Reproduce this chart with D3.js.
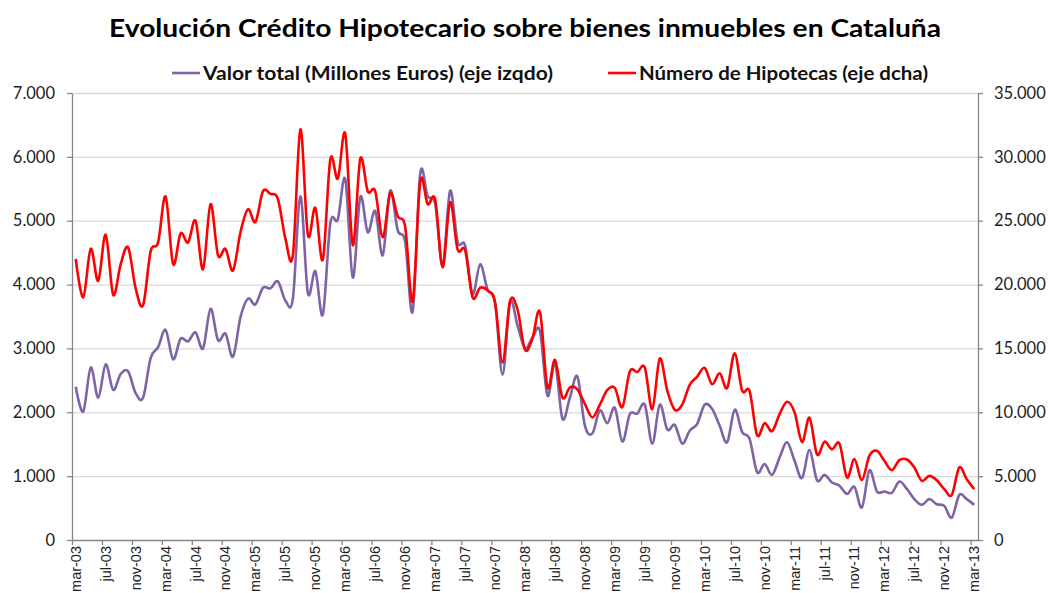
<!DOCTYPE html>
<html>
<head>
<meta charset="utf-8">
<script src="https://cdn.jsdelivr.net/npm/d3@7"></script>
<style>
    body { margin: 0; background: #fff; }
    svg { font-family: Lato, "Open Sans", sans-serif; }
</style>
</head>
<body>
<svg id="chart" width="1050" height="593"></svg>
<script>
var width = 1050, height = 593

// monthly, mar-03 .. mar-13
var valorTotal = [
    2400, 2010, 2700, 2230, 2750, 2350, 2600, 2640, 2300, 2230,
    2850, 3020, 3290, 2830, 3150, 3110, 3250, 3000, 3620, 3130,
    3230, 2870, 3490, 3780, 3690, 3950, 3940, 4050, 3750, 3780,
    5380, 3870, 4210, 3530, 4960, 5020, 5650, 4110, 5370, 4820,
    5150, 4460, 5470, 4850, 4670, 3580, 5730, 5380, 5270, 4300,
    5470, 4670, 4610, 3850, 4320, 3920, 3720, 2590, 3730, 3360,
    3000, 3170, 3270, 2260, 2770, 1900, 2230, 2560, 1790, 1670,
    2030, 1830, 2070, 1540, 1970, 1980, 2120, 1510, 2120, 1730,
    1800, 1510, 1710, 1820, 2120, 2050, 1790, 1530, 2040, 1690,
    1580, 1060, 1190, 1020, 1290, 1530, 1240, 970, 1410, 935,
    1020, 900, 850, 720, 830, 510, 1090, 760, 760, 740,
    915, 800, 640, 550, 640, 560, 534, 350, 706, 640,
    550
]

var numeroHipotecas = [
    22000, 19000, 22800, 20300, 23900, 19200, 21600, 22900, 19700, 18400,
    22600, 23300, 26900, 21600, 24000, 23300, 25000, 21200, 26300, 22300,
    22800, 21100, 24100, 25900, 24900, 27300, 27100, 26700, 23600, 22300,
    32150, 23900, 26000, 21950, 29800, 28300, 31800, 23100, 29850, 27300,
    27300, 23700, 27150, 25350, 24500, 18700, 28050, 26300, 26650, 21350,
    26450, 22750, 22700, 19000, 19750, 19550, 18600, 13900, 18700, 18050,
    14900, 15800, 17850, 11950, 14100, 11150, 11950, 11800, 10650, 9600,
    10600, 11750, 11900, 10400, 13200, 13150, 13500, 10250, 14200, 11700,
    10200, 10600, 12150, 12800, 13470, 12200, 13050, 11900, 14620, 11700,
    11650, 8200, 9150, 8520, 9860, 10820, 10000, 7680, 9580, 6700,
    7700, 7100, 7550, 4900, 6330, 4700, 6600, 6980, 6200, 5470,
    6250, 6300, 5680, 4630, 5020, 4680, 3980, 3530, 5680, 4760,
    3980
]

var tickLabels = [
    "mar-03", "jul-03", "nov-03", "mar-04", "jul-04", "nov-04",
    "mar-05", "jul-05", "nov-05", "mar-06", "jul-06", "nov-06",
    "mar-07", "jul-07", "nov-07", "mar-08", "jul-08", "nov-08",
    "mar-09", "jul-09", "nov-09", "mar-10", "jul-10", "nov-10",
    "mar-11", "jul-11", "nov-11", "mar-12", "jul-12", "nov-12",
    "mar-13"
]

var leftTicks = [0, 1000, 2000, 3000, 4000, 5000, 6000, 7000]
var rightTicks = [0, 5000, 10000, 15000, 20000, 25000, 30000, 35000]

var purple = "#7e63a5", red = "#ff0000", axisGrey = "#868686", gridGrey = "#d9d9d9"

var es = d3.formatLocale({decimal: ",", thousands: ".", grouping: [3], currency: ["", " €"]})
var fmt = es.format(",")

var margin = {left: 72, right: 72, top: 93, bottom: 53}
var n = valorTotal.length

var x = d3.scaleLinear().domain([-0.5, n - 0.5]).range([margin.left, width - margin.right])
var yL = d3.scaleLinear().domain([0, 7000]).range([height - margin.bottom, margin.top])
var yR = d3.scaleLinear().domain([0, 35000]).range([height - margin.bottom, margin.top])

var svg = d3.select("#chart")

svg.append("text")
    .attr("x", width / 2).attr("y", 37)
    .attr("text-anchor", "middle")
    .attr("font-size", 24).attr("font-weight", "bold")
    .attr("fill", "#000")
    .attr("textLength", 832).attr("lengthAdjust", "spacingAndGlyphs")
    .text("Evolución Crédito Hipotecario sobre bienes inmuebles en Cataluña")

// gridlines
svg.append("g")
    .selectAll("line")
    .data(leftTicks.filter(d => d > 0)).enter()
    .append("line")
    .attr("x1", x.range()[0]).attr("x2", x.range()[1])
    .attr("y1", d => yL(d) + 0.5).attr("y2", d => yL(d) + 0.5)
    .attr("stroke", gridGrey).attr("stroke-width", 1.3)

var styleAxis = (g) => {
    g.select(".domain").attr("stroke", axisGrey).attr("stroke-width", 1.3)
    g.selectAll(".tick line").attr("stroke", axisGrey).attr("stroke-width", 1.3)
    g.selectAll(".tick text").attr("fill", "#222").attr("font-family", "Lato, sans-serif")
}

svg.append("g")
    .attr("transform", `translate(${margin.left},0)`)
    .call(d3.axisLeft(yL).tickValues(leftTicks).tickFormat(fmt).tickSizeInner(5).tickSizeOuter(0).tickPadding(12))
    .call(styleAxis)
    .attr("font-size", 16.5)

svg.append("g")
    .attr("transform", `translate(${width - margin.right},0)`)
    .call(d3.axisRight(yR).tickValues(rightTicks).tickFormat(fmt).tickSizeInner(5).tickSizeOuter(0).tickPadding(11))
    .call(styleAxis)
    .attr("font-size", 16.5)

// x axis: ticks at category boundaries, labels at category centres
var tickIdx = tickLabels.map((d, i) => i * 4)
var xAxis = svg.append("g")
    .attr("transform", `translate(0,${height - margin.bottom})`)
    .call(d3.axisBottom(x).tickValues(tickIdx.map(i => i - 0.5)).tickFormat("").tickSizeInner(5).tickSizeOuter(0))
    .call(styleAxis)

xAxis.selectAll(".lbl")
    .data(tickIdx).enter()
    .append("text")
    .attr("class", "lbl")
    .attr("transform", d => `translate(${x(d) + 5},6) rotate(-90)`)
    .attr("text-anchor", "end")
    .attr("font-size", 14.5)
    .attr("fill", "#222")
    .text((d, i) => tickLabels[i])

var lineL = d3.line().x((d, i) => x(i)).y(d => yL(d)).curve(d3.curveCatmullRom.alpha(0))
var lineR = d3.line().x((d, i) => x(i)).y(d => yR(d)).curve(d3.curveCatmullRom.alpha(0))

svg.append("path")
    .datum(valorTotal)
    .attr("d", lineL)
    .attr("fill", "none").attr("stroke", purple).attr("stroke-width", 2.6)

svg.append("path")
    .datum(numeroHipotecas)
    .attr("d", lineR)
    .attr("fill", "none").attr("stroke", red).attr("stroke-width", 2.6)

// legend
var legend = [
    {label: "Valor total (Millones Euros) (eje izqdo)", color: purple, x: 172, w: 350},
    {label: "Número de Hipotecas (eje dcha)", color: red, x: 608, w: 289}
]
var lg = svg.append("g").selectAll("g")
    .data(legend).enter()
    .append("g")
    .attr("transform", d => `translate(${d.x},73)`)

lg.append("line")
    .attr("x1", 0).attr("x2", 28)
    .attr("stroke", d => d.color).attr("stroke-width", 2.6)

lg.append("text")
    .attr("x", 31).attr("y", 6.5)
    .attr("font-size", 19).attr("font-weight", "bold")
    .attr("fill", "#111")
    .attr("textLength", d => d.w).attr("lengthAdjust", "spacingAndGlyphs")
    .text(d => d.label)
</script>
</body>
</html>
